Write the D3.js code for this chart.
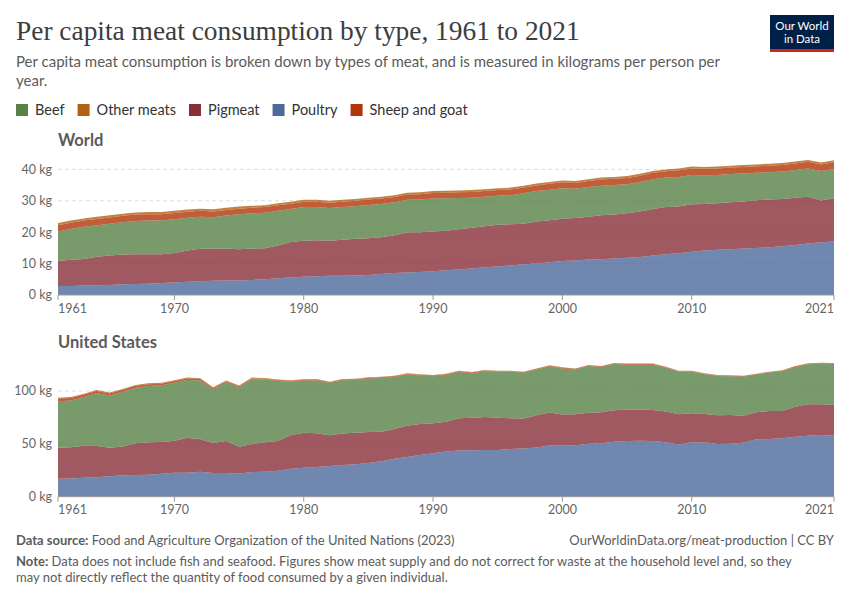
<!DOCTYPE html>
<html><head><meta charset="utf-8">
<script src="https://cdn.jsdelivr.net/npm/d3@7"></script>
<style>body{margin:0;background:#fff}</style>
</head><body><svg id="c" width="850" height="600"></svg>
<script>
const years = d3.range(1961, 2022);
const legendOrder = ["Beef", "Other meats", "Pigmeat", "Poultry", "Sheep and goat"];
const stackOrder = ["Poultry", "Pigmeat", "Beef", "Sheep and goat", "Other meats"];
const colors = {"Beef":"#578145","Other meats":"#B16214","Pigmeat":"#883039","Poultry":"#4C6A9C","Sheep and goat":"#B13507"};
const xTicks = [1961, 1970, 1980, 1990, 2000, 2010, 2021];
const worldYTicks = [0, 10, 20, 30, 40];
const usYTicks = [0, 50, 100];

const worldPoultry = [2.9,2.9,3.0,3.1,3.2,3.4,3.5,3.6,3.8,4.0,
 4.2,4.4,4.5,4.6,4.6,4.8,5.0,5.3,5.6,5.8,
 6.0,6.1,6.1,6.2,6.4,6.7,7.0,7.2,7.3,7.6,
 7.9,8.1,8.4,8.8,9.1,9.4,9.8,10.0,10.4,10.8,
 11.0,11.3,11.4,11.6,11.9,12.1,12.6,13.0,13.3,13.8,
 14.2,14.4,14.6,14.8,15.0,15.2,15.5,15.9,16.4,16.8,
 17.0];
const worldPig = [7.9,8.3,8.5,9.1,9.4,9.5,9.5,9.4,9.2,9.4,
 10.0,10.3,10.2,10.2,10.0,10.0,9.9,10.5,11.3,11.5,
 11.4,11.2,11.5,11.7,11.7,11.7,12.0,12.7,12.7,12.6,
 12.6,12.8,13.0,13.1,13.3,13.1,12.9,13.4,13.4,13.5,
 13.5,13.6,14.0,14.0,14.1,14.5,14.8,15.0,14.9,15.1,
 14.8,14.8,14.9,15.0,15.2,15.2,15.1,15.1,14.9,13.3,
 13.8];
const worldBeef = [9.4,9.8,10.2,10.0,10.1,10.3,10.6,10.7,10.7,10.7,
 10.4,10.2,10.1,10.5,11.1,11.2,11.3,11.0,10.5,10.7,
 10.6,10.4,10.4,10.4,10.6,10.6,10.5,10.4,10.4,10.5,
 10.3,10.0,9.6,9.4,9.2,9.3,9.7,9.7,9.7,9.7,
 9.3,9.5,9.4,9.4,9.3,9.4,9.5,9.4,9.4,9.3,
 9.1,9.0,9.0,8.9,8.7,8.7,8.7,8.8,9.0,9.4,
 9.3];
const worldSheep = [2.0,2.0,2.0,2.0,2.0,2.0,2.0,2.0,2.0,2.0,
 1.9,1.9,1.8,1.8,1.8,1.8,1.8,1.8,1.7,1.7,
 1.7,1.7,1.7,1.7,1.7,1.7,1.7,1.7,1.7,1.8,
 1.8,1.8,1.8,1.8,1.8,1.8,1.8,1.8,1.9,1.9,
 1.9,1.9,2.0,2.0,2.0,2.0,2.0,2.0,2.1,2.1,
 2.1,2.1,2.1,2.1,2.1,2.1,2.1,2.1,2.1,2.1,
 2.2];
const worldOther = [0.7,0.7,0.7,0.7,0.7,0.7,0.7,0.7,0.7,0.7,
 0.7,0.7,0.7,0.7,0.7,0.6,0.6,0.6,0.6,0.6,
 0.6,0.6,0.6,0.6,0.6,0.6,0.6,0.6,0.6,0.6,
 0.6,0.6,0.6,0.6,0.6,0.6,0.6,0.6,0.6,0.6,
 0.6,0.6,0.6,0.6,0.6,0.6,0.6,0.6,0.6,0.6,
 0.6,0.6,0.6,0.6,0.6,0.6,0.6,0.6,0.6,0.6,
 0.6];

const usPoultry = [17.0,17.2,17.9,18.5,19.3,20.2,20.5,20.8,21.8,22.7,
 22.7,23.6,22.4,22.4,21.8,23.3,23.6,24.6,26.5,27.4,
 28.0,29.1,30.0,30.6,31.9,33.5,36.0,37.6,39.5,41.1,
 42.7,43.6,43.9,44.2,44.2,45.2,45.5,46.5,48.4,48.1,
 48.6,50.2,50.5,52.1,52.7,53.0,52.7,51.4,49.5,51.4,
 51.4,49.8,50.2,51.1,54.3,54.6,55.2,56.8,57.7,58.4,
 57.7];
const usPig = [29.4,29.5,30.3,29.4,27.1,27.4,30.0,30.6,29.9,30.3,
 33.1,30.7,28.4,30.3,25.5,26.5,27.8,28.1,31.9,33.2,
 32.0,29.0,29.7,30.0,29.3,28.0,28.1,29.6,29.3,28.3,
 28.3,30.6,30.9,31.2,30.6,29.0,28.4,30.5,31.2,29.6,
 29.4,29.3,29.4,29.7,29.7,29.4,29.4,29.1,28.5,27.5,
 26.9,27.2,27.2,25.6,25.6,26.5,25.9,28.4,29.7,29.0,
 29.1];
const usBeef = [43.9,44.3,46.1,50.1,49.3,51.6,52.6,53.4,53.7,54.9,
 54.7,55.6,50.9,55.5,56.3,61.4,59.6,56.8,50.6,49.2,
 50.1,49.4,50.4,49.8,50.4,50.8,49.2,48.3,45.8,44.5,
 44.2,43.8,42.0,43.4,43.3,44.0,43.4,43.4,43.7,43.7,
 42.4,44.1,42.8,43.7,42.5,42.5,42.8,41.5,40.2,39.4,
 37.5,37.2,36.5,36.9,35.6,36.3,37.6,37.6,37.9,38.5,
 38.8];
const usSheep = [2.5,2.4,2.3,2.1,1.9,1.9,1.8,1.7,1.5,1.5,
 1.4,1.4,1.2,1.0,0.9,0.8,0.7,0.7,0.6,0.7,
 0.7,0.7,0.7,0.7,0.7,0.7,0.7,0.7,0.7,0.7,
 0.7,0.7,0.7,0.6,0.6,0.6,0.6,0.6,0.6,0.6,
 0.6,0.6,0.6,0.6,0.6,0.6,0.6,0.6,0.6,0.5,
 0.5,0.5,0.5,0.5,0.5,0.5,0.5,0.5,0.5,0.5,
 0.5];
const usOther = [0.9,0.9,0.9,0.9,0.9,0.9,0.8,0.8,0.8,0.8,
 0.8,0.8,0.7,0.7,0.7,0.7,0.7,0.6,0.6,0.6,
 0.6,0.6,0.6,0.6,0.6,0.5,0.5,0.5,0.5,0.5,
 0.5,0.5,0.5,0.5,0.5,0.4,0.4,0.4,0.4,0.4,
 0.4,0.4,0.4,0.4,0.4,0.4,0.4,0.4,0.4,0.4,
 0.4,0.4,0.4,0.4,0.4,0.4,0.4,0.4,0.4,0.4,
 0.4];

const svg = d3.select("#c");
const FONT = "Lato, 'Noto Sans', sans-serif";

// Header
const title = svg.append("text").attr("x", 16).attr("y", 40)
  .attr("font-family", "'Liberation Serif', 'DejaVu Serif', serif")
  .attr("font-size", 26).attr("fill", "#3d3d3d")
  .text("Per capita meat consumption by type, 1961 to 2021");
const tw = title.node().getComputedTextLength();
title.attr("font-size", 26 * 564 / tw);

svg.append("text").attr("x", 16).attr("y", 67).attr("font-family", FONT)
  .attr("font-size", 15).attr("fill", "#5b5b5b")
  .text("Per capita meat consumption is broken down by types of meat, and is measured in kilograms per person per");
svg.append("text").attr("x", 16).attr("y", 86).attr("font-family", FONT)
  .attr("font-size", 15).attr("fill", "#5b5b5b").text("year.");

// Logo
const logo = svg.append("g");
logo.append("rect").attr("x", 770).attr("y", 15).attr("width", 64).attr("height", 37).attr("fill", "#002147");
logo.append("rect").attr("x", 770).attr("y", 49).attr("width", 64).attr("height", 3).attr("fill", "#ce261e");
logo.append("text").attr("x", 802).attr("y", 30).attr("text-anchor", "middle").attr("font-family", FONT)
  .attr("font-size", 11.5).attr("fill", "#fff").text("Our World");
logo.append("text").attr("x", 802).attr("y", 43).attr("text-anchor", "middle").attr("font-family", FONT)
  .attr("font-size", 11.5).attr("fill", "#fff").text("in Data");

// Legend
let lx = 16;
legendOrder.forEach(k => {
  svg.append("rect").attr("x", lx).attr("y", 104).attr("width", 12).attr("height", 12).attr("fill", colors[k]);
  const t = svg.append("text").attr("x", lx + 19).attr("y", 115).attr("font-family", FONT)
    .attr("font-size", 14.5).attr("fill", "#333").text(k);
  lx += 19 + t.node().getComputedTextLength() + 13;
});

const x = d3.scaleLinear().domain([1961, 2021]).range([58, 834]);

function panel(name, titleY, y, yTicks, series, labelY) {
  svg.append("text").attr("x", 58).attr("y", titleY).attr("font-family", FONT)
    .attr("font-size", 16.5).attr("font-weight", 700).attr("fill", "#5b5b5b").text(name);
  const g = svg.append("g");
  yTicks.forEach(v => {
    if (v > 0) {
      g.append("line").attr("x1", 58).attr("x2", 834).attr("y1", y(v)).attr("y2", y(v))
        .attr("stroke", "#dddddd").attr("stroke-dasharray", "4,3");
    }
    g.append("text").attr("x", 52).attr("y", y(v)).attr("dy", "0.35em").attr("text-anchor", "end")
      .attr("font-family", FONT).attr("font-size", 12.5).attr("fill", "#666").text(v + " kg");
  });
  const rows = years.map((yr, i) => {
    const r = {year: yr};
    stackOrder.forEach(k => r[k] = series[k][i]);
    return r;
  });
  const stacked = d3.stack().keys(stackOrder)(rows);
  const area = d3.area().x(d => x(d.data.year)).y0(d => y(d[0])).y1(d => y(d[1]));
  g.selectAll("path.a").data(stacked).join("path").attr("class", "a")
    .attr("d", area).attr("fill", d => colors[d.key]).attr("fill-opacity", 0.8);
  const y0 = y(0);
  g.append("line").attr("x1", 58).attr("x2", 834).attr("y1", y0).attr("y2", y0).attr("stroke", "#999");
  xTicks.forEach((t, i) => {
    g.append("line").attr("x1", x(t)).attr("x2", x(t)).attr("y1", y0).attr("y2", y0 + 5).attr("stroke", "#999");
    const anchor = i === 0 ? "start" : (i === xTicks.length - 1 ? "end" : "middle");
    g.append("text").attr("x", x(t)).attr("y", labelY).attr("text-anchor", anchor)
      .attr("font-family", FONT).attr("font-size", 12.5).attr("fill", "#666").text(t);
  });
}

const yWorld = d3.scaleLinear().domain([0, 40]).range([295, 169.4]);
panel("World", 146, yWorld, worldYTicks,
  {"Poultry": worldPoultry, "Pigmeat": worldPig, "Beef": worldBeef, "Sheep and goat": worldSheep, "Other meats": worldOther}, 313);

const yUS = d3.scaleLinear().domain([0, 100]).range([496.7, 391]);
panel("United States", 348, yUS, usYTicks,
  {"Poultry": usPoultry, "Pigmeat": usPig, "Beef": usBeef, "Sheep and goat": usSheep, "Other meats": usOther}, 514);

// Footer
const f1 = svg.append("text").attr("x", 16).attr("y", 545).attr("font-family", FONT)
  .attr("font-size", 13).attr("fill", "#5b5b5b");
f1.append("tspan").attr("font-weight", 700).text("Data source:");
f1.append("tspan").text(" Food and Agriculture Organization of the United Nations (2023)");
svg.append("text").attr("x", 834).attr("y", 545).attr("text-anchor", "end").attr("font-family", FONT)
  .attr("font-size", 13).attr("fill", "#5b5b5b").text("OurWorldinData.org/meat-production | CC BY");
const n1 = svg.append("text").attr("x", 16).attr("y", 566).attr("font-family", FONT)
  .attr("font-size", 13).attr("fill", "#5b5b5b");
n1.append("tspan").attr("font-weight", 700).text("Note:");
n1.append("tspan").text(" Data does not include fish and seafood. Figures show meat supply and do not correct for waste at the household level and, so they");
svg.append("text").attr("x", 16).attr("y", 582).attr("font-family", FONT)
  .attr("font-size", 13).attr("fill", "#5b5b5b")
  .text("may not directly reflect the quantity of food consumed by a given individual.");
</script>
</body></html>
